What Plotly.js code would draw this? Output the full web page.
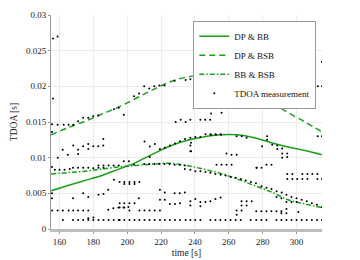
<!DOCTYPE html>
<html><head><meta charset="utf-8">
<script src="https://cdn.plot.ly/plotly-3.0.1.min.js"></script>
<style>html,body{margin:0;padding:0;background:#fff}#c{width:360px;height:260px}</style>
</head><body><div id="c"></div>
<script>
var lineTime = [155,165,175,185,195,205,215,225,235,245,255,265,275,285,295,305,315];
var dpBB  = [0.00535,0.0061,0.0068,0.0075,0.0084,0.0093,0.0105,0.0116,0.0124,0.0129,0.0132,0.0132,0.0128,0.0121,0.0115,0.0110,0.0104];
var dpBSB = [0.0132,0.0142,0.0151,0.0161,0.0171,0.0183,0.0195,0.0206,0.0213,0.0215,0.0211,0.0203,0.0193,0.0178,0.0163,0.0150,0.0136];
var bbBSB = [0.0077,0.0079,0.0081,0.0084,0.0087,0.0089,0.0091,0.0092,0.0089,0.0084,0.0078,0.0070,0.0061,0.0052,0.0041,0.0035,0.0030];

var measTime = [
156.2,158.9,156.2,155.6,158.9,162.5,165.4,168.1,155.6,
171,174,177,180,182.9,192.2,195,198,
204,207,210,213,216,219,222,228,234.5,237.3,243.2,
258.6,261.6,264.6,267.5,270.5,273.5,
309.7,312.5,315,315,
228.6,231.6,234.5,237.3,243.2,246,249,249.5,255.7,
312.5,315,
161.9,164.9,168.1,171,171,174,177,177,180,182.9,185.9,185.9,159,
155.5,157.3,160,163,166,168,171,174,177,180,183,183,186,186,189,192,195,198,201,204,
155.6,155.6,168,174,177,183,186,188.8,
155.7,158.9,162,165.4,168.1,171,174,177,177,180,
188.8,191.8,194.8,197.8,200.7,
195.5,198.3,201.3,204.3,195.5,198.3,201.3,206.8,207.2,210.2,213.2,216.2,219.3,219.3,222.2,225.2,228.2,231.2,219.3,222.2,228,231,234,
195.5,198.3,201.3,204.3,207.2,198.3,201.3,204.3,192.2,
210,213,216,219,222,225,228,231,234,234,
210.2,213.3,216.3,213.3,219.3,222.2,225.2,228.2,231.2,234.1,
249.5,252.4,255.4,237.7,237.7,
237.3,240.2,243.2,246.2,249.1,252.1,255.1,264.6,267.6,270.5,237.3,237.3,258.6,261.6,264.6,276.5,
237.3,240.2,243.2,246.2,249.1,252.1,255.1,258.1,261.1,264.1,267.1,270,273,276,
252.7,255.7,258.6,261.6,
237.3,237.3,240.2,243.2,243.2,246.2,249.1,252.1,255.1,
267.5,270.5,273.5,267.5,270.5,264.6,267.5,264.6,
282.6,282.6,279.6,285.6,288.6,291.5,288.6,291.5,294.5,291.5,294.5,
276.3,279.3,282.2,285.2,
294.5,297.5,303.4,306.4,309.3,312.3,
294.5,297.5,300.4,303.4,306.4,312.3,315,
279.3,282.2,285.2,288.2,291.2,294,297,300,303,306,309,312,315,
288.1,291,294,297,300,
276.2,279.2,282.2,285.1,288.1,291,291,294,294,301,
162,168,171,174,177,180,183,186,189,192,195,195.5,198.3,201.3,204.3,207.2,210.2,213.2,216.2,219.3,222.2,225.2,228.2,231.2,234.5,
237.3,240.2,243.2,249.1,252.1,255,258,261,264,267,272.9,276.2,279.2,282.2,288.1,291,294,297,300,303,306,309,312,315
];
var measTDOA = [
0.0267,0.0270,0.0183,0.0147,0.0146,0.0146,0.0146,0.0146,0.0136,
0.0151,0.0156,0.0156,0.0158,0.0159,0.0168,0.0170,0.0160,
0.0186,0.0190,0.0200,0.0197,0.0200,0.0201,0.0201,0.0208,0.0209,0.0210,0.0210,
0.0203,0.0196,0.0196,0.0194,0.0192,0.0187,
0.0200,0.0200,0.0200,0.0234,
0.0150,0.0153,0.0150,0.0153,0.0153,0.0153,0.0153,0.0162,0.0163,
0.0130,0.0130,
0.0111,0.0104,0.0117,0.0111,0.0105,0.0116,0.0119,0.0112,0.0116,0.0116,0.0126,0.0117,0.0100,
0.0087,0.0083,0.0083,0.0083,0.0084,0.0086,0.0086,0.0086,0.0086,0.0085,0.0089,0.0086,0.0089,0.0086,0.0089,0.0089,0.0089,0.0095,0.0095,0.0090,
0.0050,0.0043,0.0043,0.0050,0.0045,0.0048,0.0049,0.0055,
0.0026,0.0026,0.0026,0.0026,0.0026,0.0026,0.0026,0.0026,0.0015,0.0016,
0.0027,0.0029,0.0030,0.0030,0.0031,
0.0036,0.0036,0.0036,0.0036,0.0030,0.0030,0.0026,0.0043,0.0026,0.0026,0.0026,0.0026,0.0026,0.0041,0.0041,0.0035,0.0035,0.0036,0.0055,0.0051,0.0050,0.0050,0.0051,
0.0066,0.0066,0.0066,0.0066,0.0066,0.0063,0.0063,0.0063,0.0069,
0.0091,0.0091,0.0091,0.0091,0.0091,0.0091,0.0090,0.0090,0.0089,0.0084,
0.01225,0.01155,0.0119,0.0101,0.0112,0.0114,0.0117,0.0120,0.0123,0.0126,
0.0132,0.0132,0.0132,0.0121,0.0109,
0.0128,0.0129,0.0129,0.0133,0.0133,0.0133,0.0133,0.0130,0.0130,0.0128,0.0117,0.0109,0.0106,0.0104,0.0104,0.0086,
0.0083,0.0081,0.0081,0.0080,0.0079,0.0077,0.0076,0.0075,0.0073,0.0072,0.0070,0.0068,0.0066,0.0064,
0.0090,0.0090,0.0090,0.0090,
0.0039,0.0033,0.0042,0.0038,0.0032,0.0038,0.0039,0.0042,0.0044,
0.0039,0.0039,0.0039,0.0033,0.0033,0.0026,0.0026,0.0020,
0.0130,0.0125,0.0116,0.0118,0.0117,0.0113,0.0112,0.0106,0.0106,0.0100,0.0101,
0.0086,0.0086,0.0090,0.0090,
0.0077,0.0077,0.0077,0.0077,0.0077,0.0077,
0.0070,0.0070,0.0070,0.0070,0.0070,0.0070,0.0070,
0.0060,0.0058,0.0056,0.0053,0.0051,0.0048,0.0045,0.0043,0.0041,0.0039,0.0036,0.0034,0.0031,
0.0045,0.0043,0.0038,0.0038,0.0038,
0.0025,0.0025,0.0025,0.0025,0.0025,0.0025,0.0022,0.0028,0.0022,0.0024,
0.00125,0.00125,0.00125,0.00125,0.00125,0.00125,0.00125,0.00125,0.00125,0.00125,0.00125,0.00125,0.00125,0.00125,0.00125,0.00125,0.00125,0.00125,0.00125,0.00125,0.00125,0.00125,0.00125,0.00125,0.00125,
0.00125,0.00125,0.00125,0.00125,0.00125,0.00125,0.00125,0.00125,0.00125,0.00125,0.00125,0.00125,0.00125,0.00125,0.00125,0.00125,0.00125,0.00125,0.00125,0.00125,0.00125,0.00125,0.00125,0.00125
];

var green = 'rgb(25,160,25)';
var serif = 'Liberation Serif, DejaVu Serif, serif';
var traces = [
  {x: lineTime, y: dpBB, name: 'DP &amp; BB', mode: 'lines', line: {color: green, width: 1.5, shape: 'spline', dash: 'solid'}},
  {x: lineTime, y: dpBSB, name: 'DP &amp; BSB', mode: 'lines', line: {color: green, width: 1.5, shape: 'spline', dash: '6px,4px'}},
  {x: lineTime, y: bbBSB, name: 'BB &amp; BSB', mode: 'lines', line: {color: green, width: 1.5, shape: 'spline', dash: '5px,2px,1.5px,2px'}},
  {x: measTime, y: measTDOA, name: 'TDOA measurement', mode: 'markers', marker: {color: '#000', size: 2}}
];
var layout = {
  width: 360, height: 260,
  margin: {l: 51, r: 38, t: 15, b: 31},
  paper_bgcolor: '#fff', plot_bgcolor: '#fff',
  font: {family: serif, size: 9, color: '#222'},
  showlegend: true,
  legend: {x: 0.979, xanchor: 'right', y: 0.973, yanchor: 'top', bgcolor: '#fff', bordercolor: '#999', borderwidth: 1,
           font: {family: serif, size: 9, color: '#111'}, tracegroupgap: 0, itemwidth: 30},
  xaxis: {range: [155, 315], dtick: 20, tick0: 160, showgrid: true, gridcolor: '#ececec', gridwidth: 1,
          showline: true, linecolor: '#bdbdbd', linewidth: 3, ticks: 'outside', ticklen: 2, tickcolor: '#999',
          zeroline: false, tickfont: {family: serif, size: 9, color: '#222'},
          title: {text: 'time [s]', font: {family: serif, size: 9.5, color: '#222'}, standoff: 4}},
  yaxis: {range: [0, 0.03], dtick: 0.005, showgrid: true, gridcolor: '#ececec', gridwidth: 1,
          showline: true, linecolor: '#999', linewidth: 1, ticks: 'outside', ticklen: 2, tickcolor: '#999',
          zeroline: false, tickfont: {family: serif, size: 9, color: '#222'},
          title: {text: 'TDOA [s]', font: {family: serif, size: 9.5, color: '#222'}, standoff: 6}}
};
Plotly.newPlot('c', traces, layout, {staticPlot: true, displayModeBar: false});
</script></body></html>
